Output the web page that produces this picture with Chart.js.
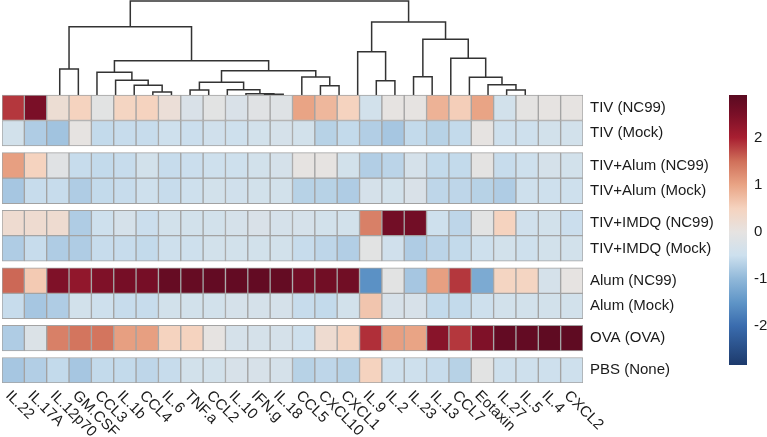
<!DOCTYPE html>
<html><head><meta charset="utf-8">
<script src="https://cdn.jsdelivr.net/npm/chart.js@4"></script>
<style>html,body{margin:0;padding:0;background:#fff}#wrap{width:767px;height:437px;position:relative}</style>
</head><body><div id="wrap"><canvas id="c" width="767" height="437"></canvas></div>
<script>
// ---------- DATA ----------
const columns = ["IL.22","IL.17A","IL.12p70","GM.CSF","CCL3","IL.1b","CCL4","IL.6","TNF.a","CCL2","IL.10","IFN.g","IL.18","CCL5","CXCL10","CXCL1","IL.9","IL.2","IL.23","IL.13","CCL7","Eotaxin","IL.27","IL.5","IL.4","CXCL2"];
const rowNames = ["TIV (NC99)","TIV (Mock)","TIV+Alum (NC99)","TIV+Alum (Mock)","TIV+IMDQ (NC99)","TIV+IMDQ (Mock)","Alum (NC99)","Alum (Mock)","OVA (OVA)","PBS (None)"];
const rowGroups = [0,0,1,1,2,2,3,3,4,5];

const tivNC99      = [1.85,2.5,0.2,0.5,-0.08,0.45,0.5,0.15,-0.27,-0.08,-0.27,-0.12,-0.16,1.0,0.8,0.5,-0.4,0,0,0.85,0.55,1.0,-0.4,-0.04,0,0];
const tivMock      = [-0.4,-0.75,-0.86,0,-0.58,-0.55,-0.55,-0.48,-0.52,-0.44,-0.48,-0.4,-0.35,-0.4,-0.68,-0.58,-0.72,-0.82,-0.58,-0.68,-0.58,0,-0.48,-0.48,-0.4,-0.4];
const tivAlumNC99  = [1.05,0.5,-0.12,-0.55,-0.58,-0.55,-0.4,-0.55,-0.52,-0.48,-0.48,-0.4,-0.35,0,0,-0.4,-0.72,-0.65,-0.35,-0.58,-0.58,-0.04,-0.55,-0.48,-0.35,-0.4];
const tivAlumMock  = [-0.82,-0.55,-0.55,-0.75,-0.58,-0.55,-0.48,-0.55,-0.48,-0.4,-0.44,-0.4,-0.4,-0.68,-0.68,-0.75,-0.35,-0.4,-0.27,-0.62,-0.62,-0.68,-0.75,-0.48,-0.48,-0.48];
const tivImdqNC99  = [0.25,0.25,0.25,-0.75,-0.48,-0.35,-0.52,-0.4,-0.4,-0.4,-0.35,-0.27,-0.35,-0.35,-0.4,-0.4,1.35,2.6,2.6,-0.48,-0.62,-0.08,0.5,-0.44,-0.4,-0.52];
const tivImdqMock  = [-0.75,-0.55,-0.75,-0.75,-0.55,-0.55,-0.58,-0.48,-0.48,-0.4,-0.4,-0.4,-0.4,-0.55,-0.62,-0.72,-0.08,-0.44,-0.75,-0.65,-0.58,-0.48,-0.4,-0.48,-0.4,-0.4];
const alumNC99     = [1.55,0.6,2.45,2.25,2.45,2.55,2.55,2.75,2.75,2.8,2.8,2.8,2.78,2.6,2.62,2.62,-1.55,-0.08,-0.82,1.05,1.85,-1.2,0.45,0.45,-0.35,0];
const alumMock     = [-0.55,-0.82,-0.75,-0.4,-0.48,-0.55,-0.55,-0.4,-0.4,-0.4,-0.35,-0.35,-0.35,-0.55,-0.58,-0.4,0.65,-0.3,-0.3,-0.58,-0.58,-0.48,-0.4,-0.4,-0.4,-0.4];
const ovaOVA       = [-0.75,-0.23,1.35,1.45,1.45,1.05,1.05,0.5,0.5,0,-0.35,-0.35,-0.35,-0.48,0.25,0.5,1.9,1.05,1.0,2.35,1.85,2.45,2.8,2.8,2.85,2.85];
const pbsNone      = [-0.82,-0.72,-0.58,-0.82,-0.58,-0.58,-0.62,-0.55,-0.4,-0.4,-0.3,-0.3,-0.35,-0.68,-0.62,-0.68,0.5,-0.48,-0.48,-0.55,-0.68,-0.08,-0.48,-0.48,-0.48,-0.48];
const heatRows = [tivNC99,tivMock,tivAlumNC99,tivAlumMock,tivImdqNC99,tivImdqMock,alumNC99,alumMock,ovaOVA,pbsNone];

// column dendrogram (hclust style: negative = leaf, positive = earlier merge, 1-based)
const mergeLeft   = [-12,-11,-6,-10,-8,-25,-5,-15,-24,5,-4,-18,-23,-14,-20,-3,10,-1,16,-22,-17,15,18,21,23];
const mergeRight  = [-13,1,-7,2,-9,-26,3,-16,6,4,7,-19,9,8,-21,11,14,-2,17,13,12,20,19,22,24];
const mergeHeight = [0.7,1.3,3,5.3,5,5,9.7,9.3,10.3,12.7,14.7,14.3,17.7,18,18.3,22.7,24.3,26,34.3,36.7,43.3,55.7,68.3,73,94];

const colorbarTicks = [2,1,0,-1,-2];
const colorMin = -2.83, colorMax = 2.91;

// ---------- STYLE ----------
const palette = [[-2.83,'#1d3a6c'],[-2,'#3a6cae'],[-1.5,'#5f95c7'],[-1,'#90b8d9'],[-0.5,'#cde0ee'],[0,'#e6e3e1'],[0.5,'#f5d3bf'],[1,'#e9a485'],[1.5,'#d0705a'],[2,'#a81f31'],[2.5,'#7a0f27'],[2.91,'#5a0a21']];
const GAP = 0.26, DENDRO_SPAN = 3.69;
const FONT = "'Liberation Sans', Arial, Helvetica, sans-serif";
const TEXT = '#1a1a1a';

function hex2rgb(h){return [parseInt(h.slice(1,3),16),parseInt(h.slice(3,5),16),parseInt(h.slice(5,7),16)];}
function colorOf(v){
  if (v <= palette[0][0]) return palette[0][1];
  for (let i=1;i<palette.length;i++){
    if (v <= palette[i][0]){
      const [v0,c0]=palette[i-1],[v1,c1]=palette[i];
      const t=(v-v0)/(v1-v0), a=hex2rgb(c0), b=hex2rgb(c1);
      return 'rgb('+a.map((x,k)=>Math.round(x+(b[k]-x)*t)).join(',')+')';
    }
  }
  return palette[palette.length-1][1];
}
const rowTop = r => r + GAP*rowGroups[r];
const totalRows = rowTop(rowNames.length-1) + 1;

const datasets = [];
heatRows.forEach((vals, r) => {
  datasets.push({
    type:'bar', xAxisID:'x', yAxisID:'y', label: rowNames[r], grouped:false,
    data: vals.map(() => [rowTop(r), rowTop(r)+1]),
    backgroundColor: vals.map(colorOf),
    borderColor:'#a3a3a3', borderWidth:1, borderSkipped:false,
    barPercentage:1, categoryPercentage:1
  });
});

const dMax = Math.max(...mergeHeight);
const hy = h => -h/dMax*DENDRO_SPAN;
const nodeX = [], nodeH = [];
function child(id){ return id < 0 ? {x:-id-1, h:0} : {x:nodeX[id-1], h:nodeH[id-1]}; }
for (let i=0;i<mergeLeft.length;i++){
  const a = child(mergeLeft[i]), b = child(mergeRight[i]), h = mergeHeight[i];
  nodeX.push((a.x+b.x)/2); nodeH.push(h);
  datasets.push({
    type:'line', xAxisID:'xd', yAxisID:'y',
    data:[{x:a.x,y:hy(a.h)},{x:a.x,y:hy(h)},{x:b.x,y:hy(h)},{x:b.x,y:hy(b.h)}],
    borderColor:'#333333', borderWidth:1.5, pointRadius:0, fill:false, tension:0,
    clip:false, borderJoinStyle:'miter', borderCapStyle:'butt'
  });
}

const extras = {
  id:'extras',
  afterDraw(chart){
    const ctx = chart.ctx, xs = chart.scales.x, ca = chart.chartArea;
    ctx.save();
    ctx.font = '15px ' + FONT; ctx.fillStyle = TEXT;
    ctx.textAlign = 'left'; ctx.textBaseline = 'top';
    columns.forEach((c,i) => {
      const x = xs.getPixelForValue(i);
      ctx.save(); ctx.translate(x, ca.bottom + 5); ctx.rotate(Math.PI/4);
      ctx.fillText(c, 0, 0); ctx.restore();
    });
    // colour key
    const bx = 729, bw = 18, top = 95, bot = 365;
    const g = ctx.createLinearGradient(0, bot, 0, top);
    palette.forEach(([v,c]) => g.addColorStop((v-colorMin)/(colorMax-colorMin), c));
    ctx.fillStyle = g; ctx.fillRect(bx, top, bw, bot-top);
    ctx.fillStyle = TEXT; ctx.textBaseline = 'middle';
    colorbarTicks.forEach(t => {
      const y = top + (colorMax - t)/(colorMax-colorMin)*(bot-top);
      ctx.fillText(String(t), bx + bw + 7, y);
    });
    ctx.restore();
  }
};

new Chart(document.getElementById('c'), {
  type:'bar',
  data:{ labels: columns, datasets },
  options:{
    responsive:false, animation:false, events:[],
    layout:{ padding:{ left:2, right:0, top:1, bottom:54 } },
    plugins:{ legend:{display:false}, tooltip:{enabled:false} },
    scales:{
      x:{ type:'category', display:false, offset:true },
      xd:{ type:'linear', display:false, min:-0.5, max:columns.length-0.5 },
      y:{
        type:'linear', position:'right', reverse:true, min:-DENDRO_SPAN, max:totalRows,
        grid:{display:false, drawTicks:false}, border:{display:false},
        ticks:{ autoSkip:false, padding:7, color:TEXT, font:{family:FONT, size:15}, callback:(v,i)=>rowNames[i] },
        afterBuildTicks: s => { s.ticks = rowNames.map((n,r)=>({value: rowTop(r)+0.5})); },
        afterFit: s => { s.width = 184; s.paddingTop = 0; s.paddingBottom = 0; }
      }
    }
  },
  plugins:[extras]
});
</script></body></html>
